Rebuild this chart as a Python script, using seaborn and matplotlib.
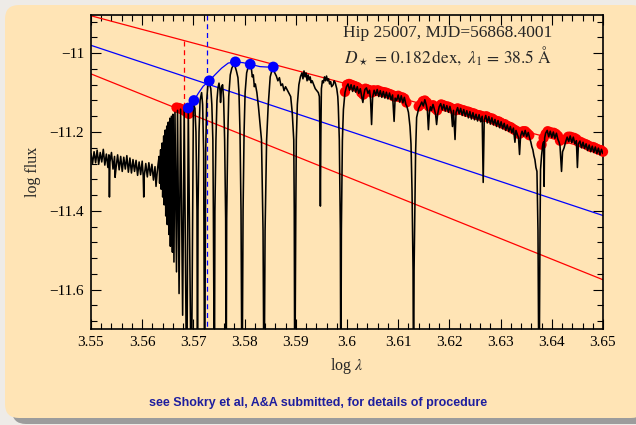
import matplotlib
matplotlib.use("Agg")
import matplotlib.pyplot as plt
from matplotlib.patches import FancyBboxPatch
from matplotlib.ticker import MultipleLocator
import seaborn as sns
import numpy as np

# ---------------- data ----------------
# blue-side continuum (below Balmer jump)
seg_a_x = [3.5500, 3.5503, 3.5506, 3.5509, 3.5512, 3.5515, 3.5518, 3.5521, 3.5524, 3.5527,
           3.5530, 3.5533, 3.5535, 3.5536, 3.5537, 3.5540, 3.5543, 3.5546, 3.5547, 3.5549,
           3.5552, 3.5555, 3.5558, 3.5561, 3.5564, 3.5567, 3.5570, 3.5573, 3.5576, 3.5579,
           3.5582, 3.5585, 3.5588, 3.5591, 3.5594, 3.5597, 3.5600, 3.5602, 3.5603, 3.5604,
           3.5607, 3.5610, 3.5613, 3.5616, 3.5619, 3.5622, 3.5625, 3.5627, 3.5629, 3.5631]
seg_a_y = [-11.255, -11.280, -11.250, -11.278, -11.246, -11.282, -11.252, -11.276, -11.244, -11.284,
           -11.256, -11.290, -11.258, -11.365, -11.276, -11.252, -11.294, -11.262, -11.315, -11.290,
           -11.258, -11.296, -11.262, -11.300, -11.264, -11.294, -11.260, -11.302, -11.266, -11.304,
           -11.270, -11.300, -11.272, -11.310, -11.276, -11.308, -11.274, -11.312, -11.365, -11.312,
           -11.280, -11.314, -11.278, -11.310, -11.282, -11.322, -11.288, -11.338, -11.306, -11.282]

# converging Balmer series near the limit
seg_b_x = [3.5633, 3.5634, 3.5636, 3.5637, 3.5639, 3.5640, 3.5642, 3.5643, 3.5645, 3.5646,
           3.5648, 3.5649, 3.5651, 3.5652, 3.5654, 3.5655, 3.5657, 3.5659, 3.5660, 3.5662,
           3.5664, 3.5667, 3.5669, 3.5672, 3.5675, 3.5679, 3.5682, 3.5687, 3.5690, 3.5696,
           3.5700]
seg_b_y = [-11.262, -11.330, -11.245, -11.345, -11.228, -11.365, -11.210, -11.385, -11.195, -11.413,
           -11.185, -11.435, -11.175, -11.460, -11.165, -11.490, -11.160, -11.505, -11.155, -11.530,
           -11.150, -11.555, -11.145, -11.610, -11.142, -11.665, -11.140, -11.900, -11.140, -11.900,
           -11.128]

# H14 ... H8, Ca K, H-epsilon
seg_c_x = [3.5703, 3.5705, 3.5707, 3.5708, 3.5709, 3.5711, 3.5713, 3.5716, 3.5718, 3.5720,
           3.5722, 3.5724, 3.5726, 3.5728, 3.5731, 3.5734, 3.5736, 3.5738, 3.5739, 3.5741,
           3.5742, 3.5744, 3.5746, 3.5748, 3.5750, 3.5752, 3.5753, 3.5755, 3.5757, 3.5759,
           3.5761, 3.5763, 3.5764, 3.5765, 3.5767, 3.5769, 3.5772, 3.5775, 3.5778, 3.5781,
           3.5784, 3.5787, 3.5789, 3.5791, 3.5793, 3.5795, 3.5797, 3.5799, 3.5801, 3.5804,
           3.5807, 3.5810, 3.5813, 3.5815, 3.5817, 3.5819, 3.5821, 3.5824, 3.5827, 3.5831,
           3.5833, 3.5836, 3.5838, 3.5840, 3.5843, 3.5846, 3.5850, 3.5853, 3.5856, 3.5859,
           3.5862, 3.5865, 3.5868, 3.5871, 3.5874, 3.5877, 3.5880, 3.5882, 3.5886, 3.5890,
           3.5893, 3.5896, 3.5897, 3.5898, 3.5900, 3.5901, 3.5903, 3.5906, 3.5909, 3.5912,
           3.5914, 3.5916, 3.5918, 3.5920, 3.5922, 3.5924, 3.5926, 3.5928, 3.5930, 3.5932,
           3.5935, 3.5938, 3.5941, 3.5944, 3.5946, 3.5947, 3.5948, 3.5949, 3.5950, 3.5952,
           3.5954, 3.5956, 3.5958, 3.5960, 3.5962, 3.5964, 3.5966, 3.5968, 3.5970, 3.5973,
           3.5975, 3.5977, 3.5980, 3.5982, 3.5983, 3.5985, 3.5987, 3.5988, 3.5989, 3.5991,
           3.5993, 3.5996]
seg_c_y = [-11.140, -11.200, -11.400, -11.900, -11.400, -11.200, -11.120, -11.100, -11.130, -11.250,
           -11.900, -11.250, -11.120, -11.085, -11.076, -11.090, -11.130, -11.220, -11.400, -11.900,
           -11.400, -11.220, -11.120, -11.088, -11.076, -11.095, -11.125, -11.085, -11.080, -11.115,
           -11.220, -11.420, -11.900, -11.420, -11.220, -11.110, -11.055, -11.038, -11.030, -11.032,
           -11.045, -11.062, -11.100, -11.200, -11.400, -11.900, -11.400, -11.200, -11.100, -11.050,
           -11.035, -11.032, -11.036, -11.060, -11.055, -11.085, -11.078, -11.100, -11.135, -11.190,
           -11.220, -11.450, -11.900, -11.450, -11.220, -11.135, -11.060, -11.045, -11.040, -11.050,
           -11.058, -11.070, -11.062, -11.082, -11.078, -11.095, -11.085, -11.090, -11.100, -11.110,
           -11.150, -11.220, -11.400, -11.900, -11.400, -11.220, -11.130, -11.080, -11.060, -11.050,
           -11.065, -11.045, -11.060, -11.050, -11.070, -11.055, -11.068, -11.060, -11.075, -11.070,
           -11.080, -11.090, -11.095, -11.100, -11.110, -11.200, -11.388, -11.200, -11.090, -11.070,
           -11.075, -11.060, -11.070, -11.058, -11.070, -11.065, -11.078, -11.072, -11.085, -11.080,
           -11.070, -11.075, -11.090, -11.110, -11.135, -11.220, -11.450, -11.900, -11.450, -11.220,
           -11.143, -11.100]

# red-side continuum with H-delta and H-gamma
seg_d_x = [3.5999, 3.6002, 3.6005, 3.6008, 3.6011, 3.6014, 3.6017, 3.6020, 3.6023, 3.6026,
           3.6029, 3.6031, 3.6033, 3.6035, 3.6038, 3.6041, 3.6044, 3.6046, 3.6048, 3.6050,
           3.6053, 3.6056, 3.6059, 3.6062, 3.6065, 3.6068, 3.6071, 3.6074, 3.6077, 3.6080,
           3.6083, 3.6086, 3.6089, 3.6092, 3.6094, 3.6097, 3.6100, 3.6103, 3.6106, 3.6109,
           3.6112, 3.6115, 3.6117, 3.6120, 3.6123, 3.6125, 3.6127, 3.6129, 3.6130, 3.6131,
           3.6133, 3.6134, 3.6136, 3.6140, 3.6143, 3.6146, 3.6149, 3.6152, 3.6155, 3.6157,
           3.6159, 3.6161, 3.6163, 3.6165, 3.6168, 3.6171, 3.6173, 3.6175, 3.6177, 3.6180,
           3.6183, 3.6186, 3.6189, 3.6192, 3.6195, 3.6198, 3.6201, 3.6204, 3.6206, 3.6208,
           3.6211, 3.6213, 3.6216, 3.6219, 3.6222, 3.6225, 3.6228, 3.6231, 3.6234, 3.6237,
           3.6240, 3.6243, 3.6246, 3.6249, 3.6252, 3.6255, 3.6258, 3.6261, 3.6264, 3.6266,
           3.6268, 3.6271, 3.6274, 3.6277, 3.6280, 3.6283, 3.6286, 3.6289, 3.6292, 3.6295,
           3.6298, 3.6301, 3.6304, 3.6307, 3.6310, 3.6313, 3.6316, 3.6319, 3.6322, 3.6325,
           3.6328, 3.6330, 3.6333, 3.6335, 3.6337, 3.6339, 3.6342, 3.6345, 3.6348, 3.6351,
           3.6354, 3.6357, 3.6359, 3.6361, 3.6363, 3.6365, 3.6367, 3.6369, 3.6371, 3.6373,
           3.6375, 3.6377, 3.6378, 3.6380, 3.6382, 3.6384, 3.6385, 3.6386, 3.6388, 3.6391,
           3.6394, 3.6397, 3.6400, 3.6403, 3.6406, 3.6409, 3.6412, 3.6414, 3.6416, 3.6419,
           3.6421, 3.6424, 3.6427, 3.6430, 3.6433, 3.6436, 3.6439, 3.6442, 3.6445, 3.6448,
           3.6450, 3.6452, 3.6455, 3.6458, 3.6461, 3.6464, 3.6467, 3.6470, 3.6473, 3.6476,
           3.6479, 3.6482, 3.6485, 3.6488, 3.6491, 3.6494, 3.6497, 3.6500]
seg_d_y = [-11.085, -11.078, -11.094, -11.080, -11.097, -11.082, -11.099, -11.085, -11.102, -11.090,
           -11.112, -11.125, -11.105, -11.092, -11.088, -11.102, -11.094, -11.117, -11.181, -11.112,
           -11.094, -11.107, -11.092, -11.110, -11.095, -11.112, -11.097, -11.114, -11.099, -11.116,
           -11.101, -11.118, -11.106, -11.173, -11.114, -11.120, -11.106, -11.124, -11.108, -11.126,
           -11.112, -11.130, -11.135, -11.150, -11.186, -11.230, -11.350, -11.550, -11.900, -11.550,
           -11.350, -11.250, -11.163, -11.140, -11.133, -11.124, -11.134, -11.118, -11.132, -11.145,
           -11.194, -11.150, -11.136, -11.145, -11.130, -11.144, -11.155, -11.181, -11.155, -11.136,
           -11.128, -11.144, -11.130, -11.147, -11.133, -11.150, -11.135, -11.152, -11.186, -11.145,
           -11.219, -11.150, -11.138, -11.154, -11.140, -11.158, -11.143, -11.160, -11.146, -11.164,
           -11.148, -11.167, -11.151, -11.169, -11.155, -11.172, -11.156, -11.174, -11.160, -11.328,
           -11.170, -11.158, -11.177, -11.161, -11.180, -11.164, -11.182, -11.168, -11.186, -11.171,
           -11.189, -11.174, -11.192, -11.178, -11.196, -11.182, -11.199, -11.186, -11.202, -11.190,
           -11.226, -11.196, -11.207, -11.215, -11.257, -11.210, -11.198, -11.210, -11.196, -11.212,
           -11.201, -11.217, -11.225, -11.237, -11.245, -11.260, -11.270, -11.290, -11.300, -11.450,
           -11.900, -11.450, -11.295, -11.260, -11.235, -11.225, -11.338, -11.215, -11.203, -11.196,
           -11.212, -11.198, -11.214, -11.200, -11.216, -11.203, -11.219, -11.225, -11.235, -11.300,
           -11.250, -11.240, -11.225, -11.213, -11.224, -11.210, -11.227, -11.213, -11.230, -11.222,
           -11.290, -11.230, -11.223, -11.240, -11.226, -11.242, -11.230, -11.247, -11.233, -11.250,
           -11.236, -11.252, -11.238, -11.255, -11.241, -11.258, -11.244, -11.255]

# continuum points (red dots)
cont_x = [3.5667, 3.5671, 3.5675, 3.5679, 3.5683, 3.5687, 3.5691,
          3.5996, 3.6000, 3.6004, 3.6008, 3.6012, 3.6016, 3.6020, 3.6024, 3.6028, 3.6032,
          3.6036, 3.6040, 3.6044, 3.6048, 3.6052, 3.6056, 3.6060, 3.6064, 3.6068, 3.6072,
          3.6076, 3.6080, 3.6084, 3.6088, 3.6092, 3.6096, 3.6100, 3.6104, 3.6108, 3.6112,
          3.6116,
          3.6140, 3.6144, 3.6148, 3.6152, 3.6156, 3.6160, 3.6164, 3.6168, 3.6172, 3.6176,
          3.6180, 3.6184, 3.6188, 3.6192, 3.6196, 3.6200, 3.6204, 3.6208, 3.6212, 3.6216,
          3.6220, 3.6224, 3.6228, 3.6232, 3.6236, 3.6240, 3.6244, 3.6248, 3.6252, 3.6256,
          3.6260, 3.6264, 3.6268, 3.6272, 3.6276, 3.6280, 3.6284, 3.6288, 3.6292, 3.6296,
          3.6300, 3.6304, 3.6308, 3.6312, 3.6316, 3.6320, 3.6324, 3.6328, 3.6332, 3.6336,
          3.6340, 3.6344, 3.6348, 3.6352, 3.6356,
          3.6380, 3.6384, 3.6388, 3.6392, 3.6396, 3.6400, 3.6404, 3.6408, 3.6412, 3.6416,
          3.6428, 3.6432, 3.6436, 3.6440, 3.6444, 3.6448, 3.6452, 3.6456, 3.6460, 3.6464,
          3.6468, 3.6472, 3.6476, 3.6480, 3.6484, 3.6488, 3.6492, 3.6496, 3.6500]
cont_y = [-11.138, -11.139, -11.141, -11.143, -11.146, -11.150, -11.154,
          -11.098, -11.080, -11.078, -11.080, -11.082, -11.084, -11.086, -11.090, -11.100, -11.105,
          -11.090, -11.092, -11.094, -11.100, -11.094, -11.096, -11.094, -11.097, -11.098, -11.099,
          -11.100, -11.102, -11.104, -11.106, -11.110, -11.110, -11.108, -11.112, -11.112, -11.115,
          -11.125,
          -11.135, -11.130, -11.122, -11.120, -11.125, -11.135, -11.134, -11.132, -11.140, -11.145,
          -11.136, -11.130, -11.132, -11.135, -11.135, -11.137, -11.140, -11.142, -11.145, -11.140,
          -11.142, -11.144, -11.145, -11.148, -11.148, -11.150, -11.152, -11.153, -11.156, -11.157,
          -11.158, -11.160, -11.162, -11.160, -11.163, -11.165, -11.166, -11.170, -11.172, -11.173,
          -11.176, -11.179, -11.180, -11.184, -11.186, -11.188, -11.192, -11.195, -11.198, -11.205,
          -11.202, -11.198, -11.198, -11.203, -11.208,
          -11.232, -11.215, -11.205, -11.198, -11.200, -11.202, -11.202, -11.205, -11.210, -11.222,
          -11.218, -11.212, -11.212, -11.214, -11.215, -11.218, -11.225, -11.225, -11.228, -11.230,
          -11.232, -11.235, -11.238, -11.238, -11.240, -11.243, -11.245, -11.246, -11.250]

# Balmer-jump peaks (blue dots) and curve through them
peak_x = [3.5690, 3.5701, 3.5731, 3.5782, 3.5811, 3.5856]
peak_y = [-11.139, -11.120, -11.070, -11.022, -11.028, -11.035]
curve_x = [3.5690, 3.5697, 3.5701, 3.5710, 3.5719, 3.5731, 3.5742, 3.5755, 3.5768, 3.5782,
           3.5797, 3.5811, 3.5830, 3.5843, 3.5856]
curve_y = [-11.139, -11.131, -11.120, -11.101, -11.084, -11.070, -11.055, -11.038, -11.025, -11.022,
           -11.024, -11.028, -11.034, -11.035, -11.035]

# straight lines (endpoints at the axis limits)
line_x = [3.55, 3.65]
upper_red_y = [-10.905, -11.251]
blue_line_y = [-10.980, -11.412]
lower_red_y = [-11.0525, -11.575]

# dashed markers
red_dash_x = [3.5682, 3.5682]
red_dash_y = [-10.968, -11.147]
blue_dash_x = [3.5727, 3.5727]
blue_dash_y = [-10.903, -11.700]

x_ticks = [3.55, 3.56, 3.57, 3.58, 3.59, 3.60, 3.61, 3.62, 3.63, 3.64, 3.65]
x_tick_labels = ["3.55", "3.56", "3.57", "3.58", "3.59", "3.6", "3.61", "3.62", "3.63", "3.64", "3.65"]
y_ticks = [-11.6, -11.4, -11.2, -11.0]
y_tick_labels = ["\u221211.6", "\u221211.4", "\u221211.2", "\u221211"]

title1 = "Hip 25007, MJD=56868.4001"
title2 = r"$D_\star\,=\,0.182\,\mathrm{dex},\;\lambda_1\,=\,38.5\;\mathrm{\AA}$"
footer = "see Shokry et al, A&A submitted, for details of procedure"

# ---------------- styling ----------------
sns.set_style("ticks")
plt.rcParams["font.family"] = ["Liberation Serif", "DejaVu Serif"]
plt.rcParams["mathtext.fontset"] = "stix"
plt.rcParams["axes.unicode_minus"] = True

W, H = 636, 425
fig = plt.figure(figsize=(W / 100, H / 100), dpi=100)
fig.patch.set_facecolor("#EEEBE7")

panel_color = "#FFE4B5"
shadow = FancyBboxPatch((12, 1), 640, 410, boxstyle="round,pad=0,rounding_size=14",
                        transform=None, facecolor="#9C9C9C", edgecolor="none", zorder=-3)
panel = FancyBboxPatch((5, 7), 640, 413, boxstyle="round,pad=0,rounding_size=14",
                       transform=None, facecolor=panel_color, edgecolor="none", zorder=-2)
fig.patches.extend([shadow, panel])

L, R, T, B = 91, 603, 15, 329
ax = fig.add_axes([L / W, 1 - B / H, (R - L) / W, (B - T) / H])
ax.set_zorder(5)
ax.set_facecolor("none")

spec_x = seg_a_x + seg_b_x + seg_c_x + seg_d_x
spec_y = seg_a_y + seg_b_y + seg_c_y + seg_d_y

# fitted straight lines
sns.lineplot(x=line_x, y=upper_red_y, ax=ax, color="#FF0000", lw=0.9, sort=False, estimator=None, zorder=2)
sns.lineplot(x=line_x, y=lower_red_y, ax=ax, color="#FF0000", lw=0.9, sort=False, estimator=None, zorder=2)
sns.lineplot(x=line_x, y=blue_line_y, ax=ax, color="#0000FF", lw=0.9, sort=False, estimator=None, zorder=2)
ax.plot(red_dash_x, red_dash_y, color="#FF0000", lw=0.9, dashes=(4, 3), zorder=2)
ax.plot(blue_dash_x, blue_dash_y, color="#0000FF", lw=0.9, dashes=(4, 3), zorder=2)

# continuum points
sns.scatterplot(x=cont_x, y=cont_y, ax=ax, color="#FF0000", s=55, edgecolor="none", zorder=3,
                clip_on=False)

# spectrum
sns.lineplot(x=spec_x, y=spec_y, ax=ax, color="black", lw=1.15, sort=False, estimator=None, zorder=4)

# Balmer-jump curve and points
sns.lineplot(x=curve_x, y=curve_y, ax=ax, color="#0000FF", lw=0.9, sort=False, estimator=None, zorder=5)
sns.scatterplot(x=peak_x, y=peak_y, ax=ax, color="#0000FF", s=60, edgecolor="none", zorder=6)

ax.set_xlim(3.55, 3.65)
ax.set_ylim(-11.7, -10.903)
ax.set_xticks(x_ticks)
ax.set_xticklabels(x_tick_labels)
ax.set_yticks(y_ticks)
ax.set_yticklabels(y_tick_labels)
ax.xaxis.set_minor_locator(MultipleLocator(0.002))
ax.yaxis.set_minor_locator(MultipleLocator(0.04))
ax.tick_params(which="both", direction="in", top=True, right=True, colors="black",
               labelsize=11, width=0.8)
ax.tick_params(which="major", length=7, pad=5)
ax.tick_params(which="minor", length=4)
for sp in ax.spines.values():
    sp.set_visible(True)
    sp.set_linewidth(1.2)
    sp.set_color("black")

ax.set_xlabel(r"log $\lambda$", fontsize=11.5, labelpad=5)
ax.set_ylabel("log flux", fontsize=11.5, labelpad=6)

ax.text(0.697, 0.943, title1, transform=ax.transAxes, ha="center", va="center", fontsize=12.5)
ax.text(0.697, 0.869, title2, transform=ax.transAxes, ha="center", va="center", fontsize=12.5)

fig.text(318 / W, 1 - 403 / H, footer, ha="center", va="center", fontsize=9,
         fontweight="bold", color="#1E1E9E", family=["Liberation Sans", "DejaVu Sans"])

fig.savefig("out.png", dpi=100, facecolor=fig.get_facecolor())
